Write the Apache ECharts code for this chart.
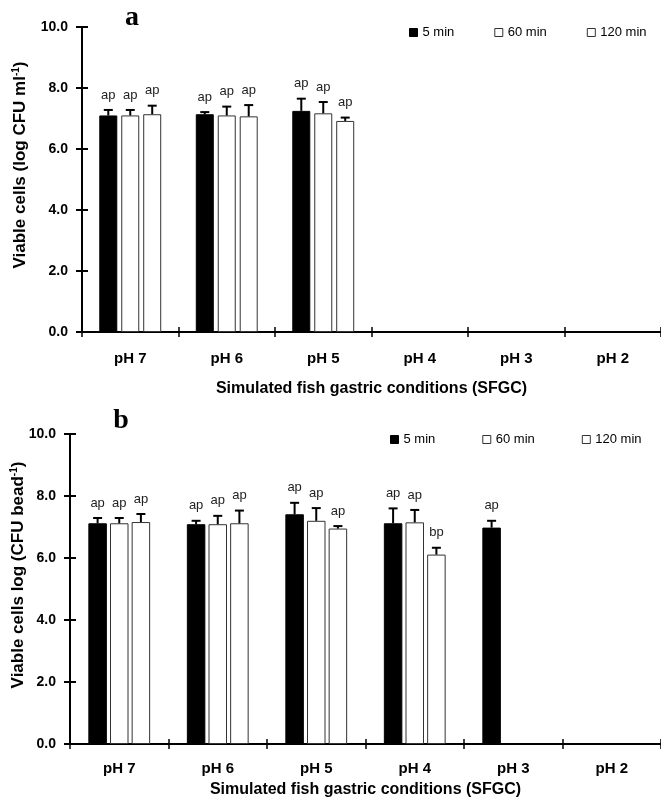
<!DOCTYPE html>
<html>
<head>
<meta charset="utf-8">
<script src="https://cdn.jsdelivr.net/npm/echarts@6/dist/echarts.min.js"></script>
<style>html,body{margin:0;padding:0;background:#fff}#c{width:661px;height:804px}</style>
</head>
<body>
<div id="c"></div>
<script>
// ---------- data ----------
const categories = ['pH 7', 'pH 6', 'pH 5', 'pH 4', 'pH 3', 'pH 2'];
const seriesNames = ['5 min', '60 min', '120 min'];

// panel a (free cells)
const aMean5   = [7.10, 7.14, 7.25, null, null, null];
const aMean60  = [7.10, 7.10, 7.17, null, null, null];
const aMean120 = [7.14, 7.07, 6.92, null, null, null];
const aErr5    = [0.18, 0.07, 0.40, null, null, null];
const aErr60   = [0.18, 0.29, 0.37, null, null, null];
const aErr120  = [0.28, 0.37, 0.11, null, null, null];
const aLab5    = ['ap', 'ap', 'ap', null, null, null];
const aLab60   = ['ap', 'ap', 'ap', null, null, null];
const aLab120  = ['ap', 'ap', 'ap', null, null, null];

// panel b (beads)
const bMean5   = [7.12, 7.09, 7.41, 7.12, 6.98, null];
const bMean60  = [7.12, 7.09, 7.20, 7.15, null, null];
const bMean120 = [7.16, 7.12, 6.95, 6.11, null, null];
const bErr5    = [0.17, 0.11, 0.37, 0.48, 0.22, null];
const bErr60   = [0.17, 0.27, 0.41, 0.40, null, null];
const bErr120  = [0.26, 0.41, 0.08, 0.22, null, null];
const bLab5    = ['ap', 'ap', 'ap', 'ap', 'ap', null];
const bLab60   = ['ap', 'ap', 'ap', 'ap', null, null];
const bLab120  = ['ap', 'ap', 'ap', 'bp', null, null];

const yMin = 0, yMax = 10, yInterval = 2;

// ---------- styling ----------
const FONT = '"Liberation Sans", Arial, sans-serif';
const barStyles = [
  { color: '#000', borderColor: '#000', borderWidth: 1 },
  { color: '#fff', borderColor: '#333', borderWidth: 1 },
  { color: '#fff', borderColor: '#333', borderWidth: 1 }
];

const chart = echarts.init(document.getElementById('c'), null, { renderer: 'canvas' });

function errSeries(mean, err, labs, k, barW, gapRatio, axisIdx) {
  const data = [];
  mean.forEach((m, i) => { if (m != null) data.push({ value: [i, m, err[i]], lab: labs[i] }); });
  const stride = barW * (1 + gapRatio);
  return {
    type: 'custom', xAxisIndex: axisIdx, yAxisIndex: axisIdx, z: 5,
    encode: { x: 0, y: 1 }, data: data, silent: true,
    renderItem: function (params, api) {
      const ci = api.value(0), m = api.value(1), e = api.value(2);
      const base = api.coord([ci, m]);
      const top = api.coord([ci, m + e]);
      const x = base[0] + (k - 1) * stride;
      const lab = data[params.dataIndex].lab;
      return {
        type: 'group',
        children: [
          { type: 'line', shape: { x1: x, y1: base[1], x2: x, y2: top[1] }, style: { stroke: '#000', lineWidth: 2 } },
          { type: 'line', shape: { x1: x - 4.5, y1: top[1], x2: x + 4.5, y2: top[1] }, style: { stroke: '#000', lineWidth: 2 } },
          { type: 'text', x: x, y: top[1] - 15, style: { text: lab || '', fill: '#222', font: '13px ' + FONT, align: 'center', verticalAlign: 'middle' } }
        ]
      };
    }
  };
}

function barSeries(name, values, k, barW, gap, axisIdx) {
  return {
    name: name, type: 'bar', xAxisIndex: axisIdx, yAxisIndex: axisIdx,
    data: values, barWidth: barW, barGap: gap, itemStyle: barStyles[k]
  };
}

function mainX(gridIndex, margin, nameGap) {
  return {
    type: 'category', gridIndex: gridIndex, data: categories, position: 'bottom',
    axisLine: { lineStyle: { color: '#000', width: 2 } },
    axisTick: { show: true, length: 5, lineStyle: { color: '#000', width: 1.5 } },
    axisLabel: { color: '#000', fontFamily: FONT, fontWeight: 'bold', fontSize: 15, margin: margin },
    name: 'Simulated fish gastric conditions (SFGC)', nameLocation: 'middle', nameGap: nameGap,
    nameTextStyle: { color: '#000', fontFamily: FONT, fontWeight: 'bold', fontSize: 16 }
  };
}
function innerX(gridIndex) {
  return {
    type: 'category', gridIndex: gridIndex, data: categories, position: 'bottom',
    axisLine: { show: false }, axisLabel: { show: false },
    axisTick: { show: true, inside: true, length: 5, lineStyle: { color: '#000', width: 1.5 } }
  };
}
function mainY(gridIndex, margin) {
  return {
    type: 'value', gridIndex: gridIndex, min: yMin, max: yMax, interval: yInterval, position: 'left',
    splitLine: { show: false },
    axisLine: { show: true, lineStyle: { color: '#000', width: 2 } },
    axisTick: { show: true, length: 6, lineStyle: { color: '#000', width: 2 } },
    axisLabel: { color: '#000', fontFamily: FONT, fontWeight: 'bold', fontSize: 14, margin: margin,
      formatter: v => v.toFixed(1) }
  };
}
function innerY(gridIndex) {
  return {
    type: 'value', gridIndex: gridIndex, min: yMin, max: yMax, interval: yInterval, position: 'left',
    splitLine: { show: false }, axisLine: { show: false }, axisLabel: { show: false },
    axisTick: { show: true, inside: true, length: 6, lineStyle: { color: '#000', width: 2 } }
  };
}

function legendFor(left, top, gap) {
  return {
    left: left, top: top, itemWidth: 8, itemHeight: 8, itemGap: gap, icon: 'rect',
    selectedMode: false,
    textStyle: { color: '#000', fontFamily: FONT, fontSize: 13 },
    data: seriesNames.map((n, k) => ({ name: n, itemStyle: barStyles[k] }))
  };
}

const A_BW = 18, A_GAP = 0.22, B_BW = 18.5, B_GAP = 0.17;

const option = {
  animation: false,
  backgroundColor: '#fff',
  grid: [
    { left: 82, right: 0, top: 27, height: 305, containLabel: false },
    { left: 70, right: 0, top: 434, height: 310, containLabel: false }
  ],
  legend: [legendFor(404, 21, 40), legendFor(385, 428, 47)],
  xAxis: [mainX(0, 19, 49), innerX(0), mainX(1, 17, 38), innerX(1)],
  yAxis: [mainY(0, 14), innerY(0), mainY(1, 14), innerY(1)],
  graphic: [
    { type: 'text', x: 132, y: 18, style: { text: 'a', font: 'bold 28px "Liberation Serif", serif', fill: '#000', align: 'center', verticalAlign: 'middle' } },
    { type: 'text', x: 121, y: 421, style: { text: 'b', font: 'bold 28px "Liberation Serif", serif', fill: '#000', align: 'center', verticalAlign: 'middle' } },
    { type: 'text', x: 20, y: 165, rotation: Math.PI / 2,
      style: { text: '{t|Viable cells (log CFU ml}{s|-1}{t|)}', align: 'center', verticalAlign: 'middle',
        rich: { t: { font: 'bold 17px ' + FONT, fill: '#000' }, s: { font: 'bold 10px ' + FONT, fill: '#000', verticalAlign: 'top' } } } },
    { type: 'text', x: 18, y: 575, rotation: Math.PI / 2,
      style: { text: '{t|Viable cells log (CFU bead}{s|-1}{t|)}', align: 'center', verticalAlign: 'middle',
        rich: { t: { font: 'bold 17px ' + FONT, fill: '#000' }, s: { font: 'bold 10px ' + FONT, fill: '#000', verticalAlign: 'top' } } } }
  ],
  series: [
    barSeries(seriesNames[0], aMean5, 0, A_BW, (A_GAP * 100) + '%', 0),
    barSeries(seriesNames[1], aMean60, 1, A_BW, (A_GAP * 100) + '%', 0),
    barSeries(seriesNames[2], aMean120, 2, A_BW, (A_GAP * 100) + '%', 0),
    errSeries(aMean5, aErr5, aLab5, 0, A_BW, A_GAP, 0),
    errSeries(aMean60, aErr60, aLab60, 1, A_BW, A_GAP, 0),
    errSeries(aMean120, aErr120, aLab120, 2, A_BW, A_GAP, 0),
    barSeries(seriesNames[0], bMean5, 0, B_BW, (B_GAP * 100) + '%', 2),
    barSeries(seriesNames[1], bMean60, 1, B_BW, (B_GAP * 100) + '%', 2),
    barSeries(seriesNames[2], bMean120, 2, B_BW, (B_GAP * 100) + '%', 2),
    errSeries(bMean5, bErr5, bLab5, 0, B_BW, B_GAP, 2),
    errSeries(bMean60, bErr60, bLab60, 1, B_BW, B_GAP, 2),
    errSeries(bMean120, bErr120, bLab120, 2, B_BW, B_GAP, 2)
  ]
};
chart.setOption(option);
</script>
</body>
</html>
